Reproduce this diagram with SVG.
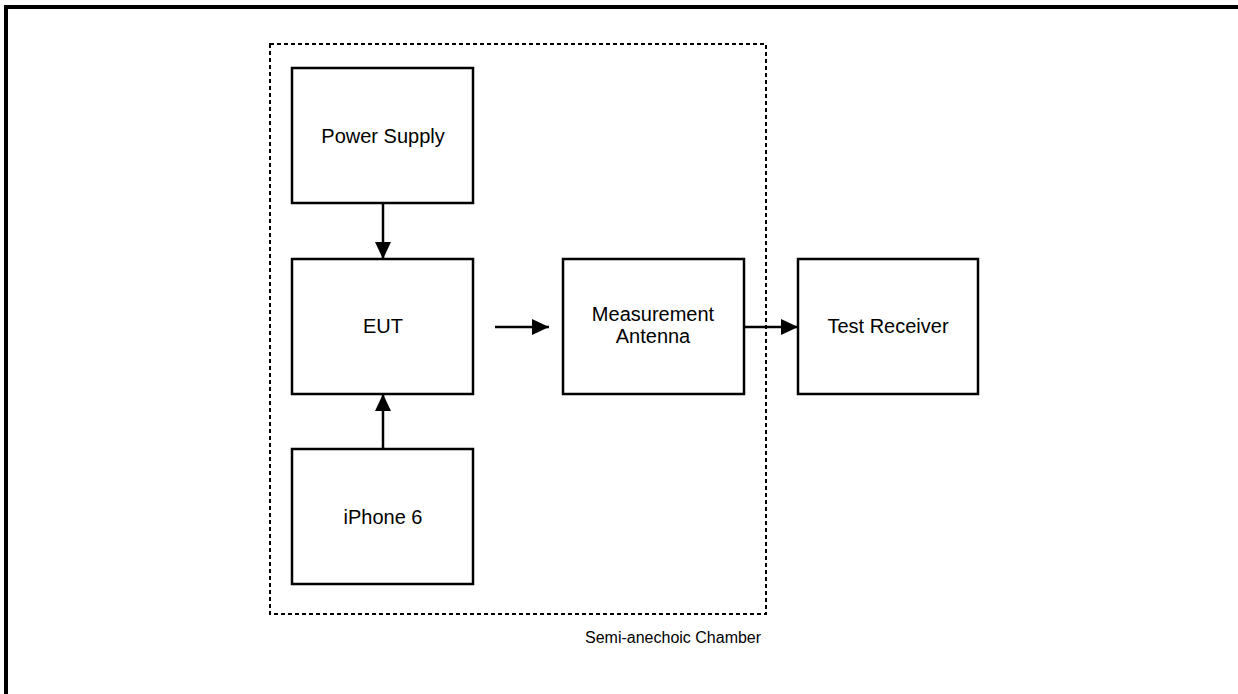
<svg xmlns="http://www.w3.org/2000/svg" width="1238" height="694" viewBox="0 0 1238 694">
<style>
.box{fill:#fff;stroke:#000;stroke-width:2.5}
.lbl{font-family:"Liberation Sans",Arial,sans-serif;font-size:20px;fill:#000;text-anchor:middle}
.cap{font-family:"Liberation Sans",Arial,sans-serif;font-size:16px;fill:#000}
.conn{stroke:#000;stroke-width:2.5;fill:none}
</style>
<defs>
<marker id="arr" markerWidth="17" markerHeight="16" refX="17" refY="8" orient="auto" markerUnits="userSpaceOnUse">
<path d="M0,0 L17,8 L0,16 Z" fill="#000"/>
</marker>
</defs>
<rect width="1238" height="694" fill="#fff"/>
<g id="frame">
<path d="M6,694 L6,7 L1238,7" fill="none" stroke="#000" stroke-width="4"/>
</g>
<g id="chamber">
<rect x="270" y="44" width="496" height="570" fill="none" stroke="#000" stroke-width="2" stroke-dasharray="4,3"/>
<text class="cap" x="585" y="643">Semi-anechoic Chamber</text>
</g>
<g id="power-supply">
<rect class="box" x="292" y="68" width="181" height="135"/>
<text class="lbl" x="383" y="143">Power Supply</text>
</g>
<g id="eut">
<rect class="box" x="292" y="259" width="181" height="135"/>
<text class="lbl" x="383" y="333">EUT</text>
</g>
<g id="iphone">
<rect class="box" x="292" y="449" width="181" height="135"/>
<text class="lbl" x="383" y="524">iPhone 6</text>
</g>
<g id="antenna">
<rect class="box" x="563" y="259" width="181" height="135"/>
<text class="lbl" x="653" y="321">Measurement</text>
<text class="lbl" x="653" y="343">Antenna</text>
</g>
<g id="receiver">
<rect class="box" x="798" y="259" width="180" height="135"/>
<text class="lbl" x="888" y="333">Test Receiver</text>
</g>
<g id="connectors">
<line class="conn" x1="383" y1="203" x2="383" y2="259" marker-end="url(#arr)"/>
<line class="conn" x1="383" y1="449" x2="383" y2="394" marker-end="url(#arr)"/>
<line class="conn" x1="495" y1="327" x2="549" y2="327" marker-end="url(#arr)"/>
<line class="conn" x1="744" y1="327" x2="798" y2="327" marker-end="url(#arr)"/>
</g>
</svg>
